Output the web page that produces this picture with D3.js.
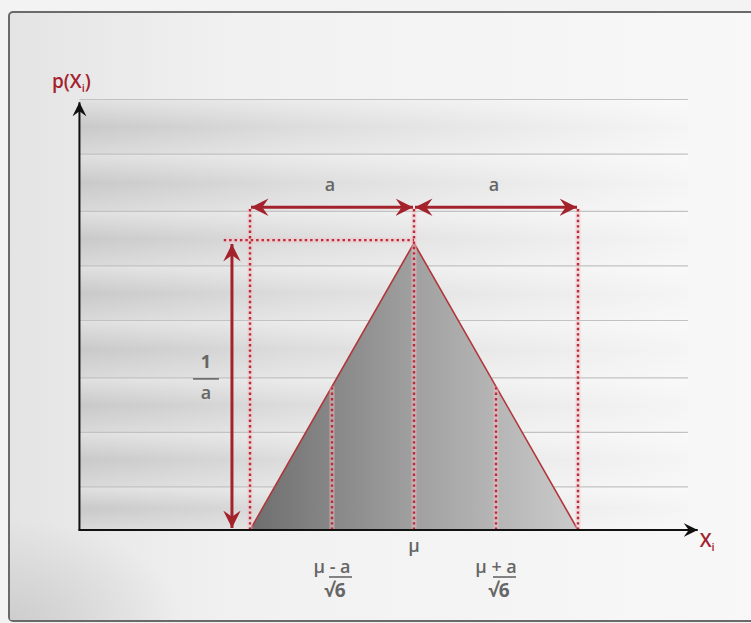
<!DOCTYPE html>
<html>
<head>
<meta charset="utf-8">
<script src="https://cdn.jsdelivr.net/npm/d3@7"></script>
<style>
  body { margin: 0; background: #f1f1f1; }
  svg { display: block; }
  text { font-family: "Open Sans", "DejaVu Sans", sans-serif; }
</style>
</head>
<body>
<svg id="plot" width="751" height="623"></svg>
<script>
// triangular distribution, mu = 0, a = 1 (units of the picture)
const triangle = [{x: -1, y: 0}, {x: 0, y: 1}, {x: 1, y: 0}]
const markX = [-0.5, 0, 0.5]           // mu - a/sqrt6, mu, mu + a/sqrt6 as drawn
const edgeX = [-1, 0, 1]               // mu - a, mu, mu + a
const gridY = [0.15, 0.34, 0.53, 0.73, 0.92, 1.11, 1.31, 1.50]
const spanLabels = ['a', 'a']
const heightLabel = ['1', 'a']
const tickLabels = [
  {top: 'μ - a', bottom: '√6'},
  {top: 'μ', bottom: ''},
  {top: 'μ + a', bottom: '√6'}
]
const axisX = [-2.04, 1.73]
const axisY = [0, 1.49]
const gridEnd = 1.67
const arrowLevel = 1.125
const guideTop = 1.12
const peakGuideLeft = -1.16
const heightArrowX = -1.11

const red = '#a3222c'
const svg = d3.select('#plot')

const x = d3.scaleLinear().domain([-1, 1]).range([250, 578])
const y = d3.scaleLinear().domain([0, 1]).range([530, 243])

const defs = svg.append('defs')

// panel background
const panelGrad = defs.append('linearGradient').attr('id', 'panelGrad')
panelGrad.append('stop').attr('offset', '0%').attr('stop-color', '#e4e4e4')
panelGrad.append('stop').attr('offset', '30%').attr('stop-color', '#f1f1f1')
panelGrad.append('stop').attr('offset', '100%').attr('stop-color', '#f8f8f8')

const bandGrad = defs.append('linearGradient').attr('id', 'bandGrad')
bandGrad.append('stop').attr('offset', '0%').attr('stop-color', '#c9c9c9')
bandGrad.append('stop').attr('offset', '35%').attr('stop-color', '#dcdcdc')
bandGrad.append('stop').attr('offset', '75%').attr('stop-color', '#ececec')
bandGrad.append('stop').attr('offset', '100%').attr('stop-color', '#f5f5f5')

const bandShade = defs.append('linearGradient').attr('id', 'bandShade')
  .attr('x1', 0).attr('y1', 0).attr('x2', 0).attr('y2', 1)
bandShade.append('stop').attr('offset', '0%').attr('stop-color', '#fff').attr('stop-opacity', 0.45)
bandShade.append('stop').attr('offset', '50%').attr('stop-color', '#fff').attr('stop-opacity', 0)
bandShade.append('stop').attr('offset', '100%').attr('stop-color', '#fff').attr('stop-opacity', 0.3)

const cornerGrad = defs.append('radialGradient').attr('id', 'cornerGrad')
  .attr('cx', 0).attr('cy', 1).attr('r', 1)
cornerGrad.append('stop').attr('offset', '0%').attr('stop-color', '#c8c8c8').attr('stop-opacity', 0.8)
cornerGrad.append('stop').attr('offset', '100%').attr('stop-color', '#c8c8c8').attr('stop-opacity', 0)

const triGrad = defs.append('linearGradient').attr('id', 'triGrad')
triGrad.append('stop').attr('offset', '0%').attr('stop-color', '#6e6e6e')
triGrad.append('stop').attr('offset', '50%').attr('stop-color', '#a0a0a0')
triGrad.append('stop').attr('offset', '100%').attr('stop-color', '#cbcbcb')

const marker = (id, color, size) => {
  defs.append('marker').attr('id', id)
    .attr('viewBox', '-14 -8 16 16').attr('refX', 0).attr('refY', 0)
    .attr('markerWidth', size).attr('markerHeight', size)
    .attr('markerUnits', 'userSpaceOnUse').attr('orient', 'auto-start-reverse')
    .append('path').attr('d', 'M0,0 L-14,-7 L-9,0 L-14,7 Z').attr('fill', color)
}
marker('redHead', red, 20)
marker('blackHead', '#111', 16)

svg.append('rect').attr('x', 0).attr('y', 0).attr('width', 751).attr('height', 623).attr('fill', '#f3f3f3')
svg.append('rect').attr('x', 9).attr('y', 12).attr('width', 760).attr('height', 609)
  .attr('rx', 4).attr('fill', 'url(#panelGrad)').attr('stroke', '#6a6a6a').attr('stroke-width', 2)
svg.append('rect').attr('x', 10).attr('y', 520).attr('width', 170).attr('height', 100)
  .attr('fill', 'url(#cornerGrad)')

// background bands
const bands = d3.pairs([axisY[0], ...gridY])
const bandG = svg.append('g')
;['url(#bandGrad)', 'url(#bandShade)'].forEach(fill => {
  bandG.append('g').selectAll('rect').data(bands).enter().append('rect')
    .attr('x', x(axisX[0])).attr('width', x(gridEnd) - x(axisX[0]))
    .attr('y', d => y(d[1])).attr('height', d => y(d[0]) - y(d[1]))
    .attr('fill', fill)
})
svg.append('g').selectAll('line').data(gridY).enter().append('line')
  .attr('x1', x(axisX[0])).attr('x2', x(gridEnd))
  .attr('y1', d => y(d)).attr('y2', d => y(d))
  .attr('stroke', '#c2c2c2').attr('stroke-width', 1.2)

// triangle
const line = d3.line().x(d => x(d.x)).y(d => y(d.y))
svg.append('path').datum(triangle).attr('d', line(triangle) + 'Z')
  .attr('fill', 'url(#triGrad)').attr('stroke', '#b0363c').attr('stroke-width', 1.6)

// dotted guides
const peakAt = v => 1 - Math.abs(v)
const guides = [
  ...edgeX.map(v => ({x1: v, y1: 0, x2: v, y2: guideTop})),
  ...markX.filter(v => v !== 0).map(v => ({x1: v, y1: 0, x2: v, y2: peakAt(v)})),
  {x1: peakGuideLeft, y1: 1.01, x2: 0, y2: 1.01}
]
svg.append('g').selectAll('line').data(guides).enter().append('line')
  .attr('x1', d => x(d.x1)).attr('x2', d => x(d.x2))
  .attr('y1', d => y(d.y1)).attr('y2', d => y(d.y2))
  .attr('stroke', '#f3c2c6').attr('stroke-width', 5).attr('opacity', 0.5)
svg.append('g').selectAll('line').data(guides).enter().append('line')
  .attr('x1', d => x(d.x1)).attr('x2', d => x(d.x2))
  .attr('y1', d => y(d.y1)).attr('y2', d => y(d.y2))
  .attr('stroke', '#bb2a38').attr('stroke-width', 2.4).attr('stroke-dasharray', '2.4,3')

// span arrows
const spans = d3.pairs(edgeX)
svg.append('g').selectAll('line').data(spans).enter().append('line')
  .attr('x1', d => x(d[0]) + 1).attr('x2', d => x(d[1]) - 1)
  .attr('y1', y(arrowLevel)).attr('y2', y(arrowLevel))
  .attr('stroke', red).attr('stroke-width', 3)
  .attr('marker-start', 'url(#redHead)').attr('marker-end', 'url(#redHead)')
svg.append('g').selectAll('text').data(spans).enter().append('text')
  .attr('x', d => x((d[0] + d[1]) / 2) - 2).attr('y', y(arrowLevel) - 16)
  .attr('text-anchor', 'middle').attr('fill', '#666')
  .attr('font-size', 18).attr('font-weight', 600)
  .text((d, i) => spanLabels[i])

// height arrow
svg.append('line')
  .attr('x1', x(heightArrowX)).attr('x2', x(heightArrowX))
  .attr('y1', y(1) + 1).attr('y2', y(0) - 2)
  .attr('stroke', red).attr('stroke-width', 3)
  .attr('marker-start', 'url(#redHead)').attr('marker-end', 'url(#redHead)')
const fracX = x(heightArrowX) - 26
const fracY = y(0.53)
svg.append('text').attr('x', fracX).attr('y', fracY - 10).attr('text-anchor', 'middle')
  .attr('fill', '#666').attr('font-size', 18).attr('font-weight', 700).text(heightLabel[0])
svg.append('line').attr('x1', fracX - 13).attr('x2', fracX + 13).attr('y1', fracY + 1).attr('y2', fracY + 1)
  .attr('stroke', '#666').attr('stroke-width', 1.6)
svg.append('text').attr('x', fracX).attr('y', fracY + 21).attr('text-anchor', 'middle')
  .attr('fill', '#666').attr('font-size', 18).attr('font-weight', 600).text(heightLabel[1])

// axes
svg.append('line').attr('x1', x(axisX[0])).attr('x2', x(axisX[0]))
  .attr('y1', y(0)).attr('y2', y(axisY[1]))
  .attr('stroke', '#111').attr('stroke-width', 2).attr('marker-end', 'url(#blackHead)')
svg.append('line').attr('x1', x(axisX[0]) - 1).attr('x2', x(axisX[1]))
  .attr('y1', y(0)).attr('y2', y(0))
  .attr('stroke', '#111').attr('stroke-width', 2).attr('marker-end', 'url(#blackHead)')

const yLab = svg.append('text').attr('x', 52).attr('y', 88)
  .attr('fill', red).attr('font-size', 19).attr('font-weight', 600)
yLab.append('tspan').text('p(X')
yLab.append('tspan').attr('font-size', 11).attr('dy', 4).text('i')
yLab.append('tspan').attr('dy', -4).text(')')

const xLab = svg.append('text').attr('x', x(axisX[1]) + 2).attr('y', 547)
  .attr('fill', red).attr('font-size', 19).attr('font-weight', 600)
xLab.append('tspan').text('X')
xLab.append('tspan').attr('font-size', 11).attr('dy', 4).text('i')

// tick labels under the x axis
const ticks = svg.append('g').selectAll('g').data(tickLabels).enter().append('g')
  .attr('transform', (d, i) => `translate(${x(markX[i])},0)`)
ticks.filter(d => d.bottom === '').append('text')
  .attr('x', 0).attr('y', 552).attr('text-anchor', 'middle')
  .attr('fill', '#666').attr('font-size', 18).attr('font-weight', 600).text(d => d.top)
const fr = ticks.filter(d => d.bottom !== '')
fr.append('text').attr('x', 0).attr('y', 573).attr('text-anchor', 'middle')
  .attr('fill', '#666').attr('font-size', 18).attr('font-weight', 600)
  .attr('xml:space', 'preserve').text(d => d.top)
fr.append('line').attr('x1', -3).attr('x2', 20).attr('y1', 577).attr('y2', 577)
  .attr('stroke', '#666').attr('stroke-width', 1.6)
fr.append('text').attr('x', 3).attr('y', 597).attr('text-anchor', 'middle')
  .attr('fill', '#666').attr('font-size', 19).attr('font-weight', 700).text(d => d.bottom)
</script>
</body>
</html>
